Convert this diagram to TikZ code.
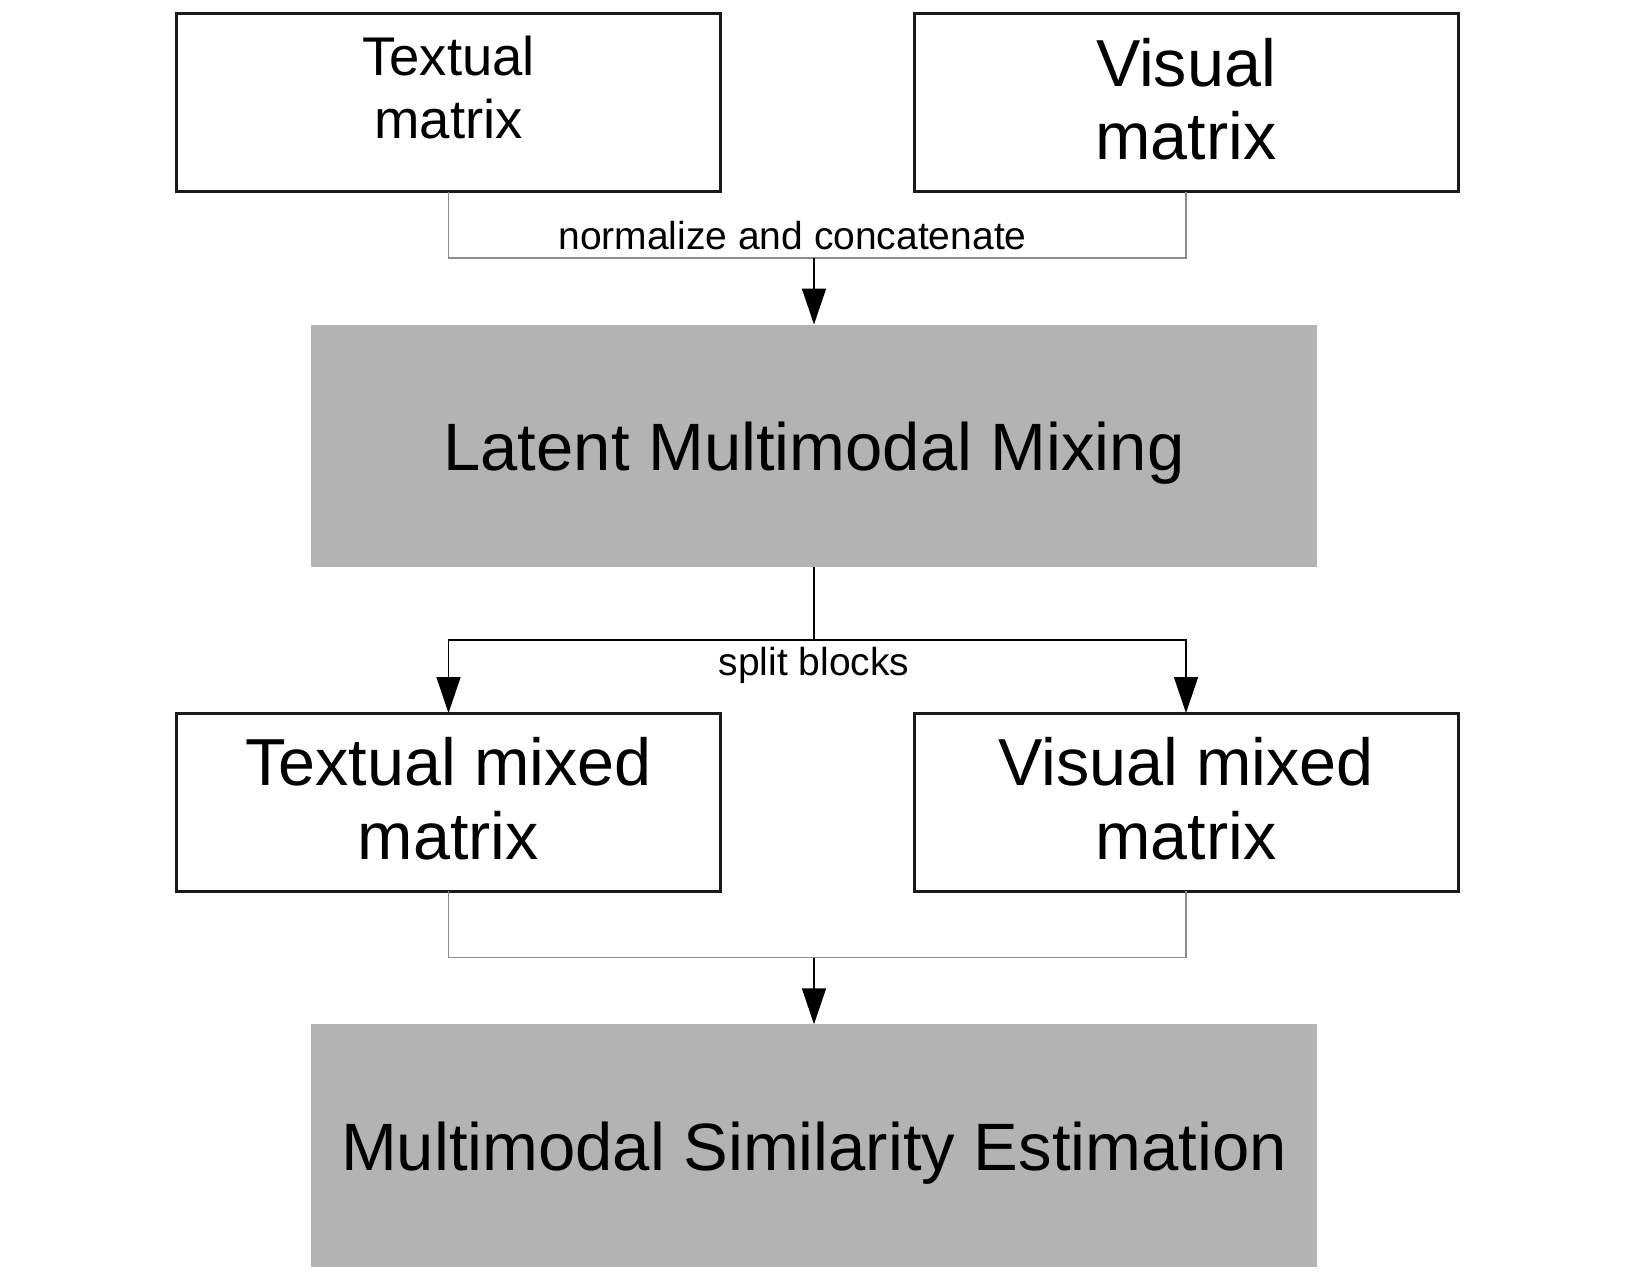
\documentclass[tikz,border=0pt]{standalone}
\usepackage{fontspec}
\setmainfont{Liberation Sans}
\usetikzlibrary{arrows.meta}
\definecolor{boxfill}{HTML}{B3B3B3}
\definecolor{boxline}{HTML}{1A1A1A}
\definecolor{joinline}{HTML}{8C8C8C}
\begin{document}
\begin{tikzpicture}[x=1pt,y=-1pt,
  whitebox/.style={draw=boxline,line width=3pt,fill=white,rectangle,inner sep=0pt,outer sep=0pt,minimum width=544pt,minimum height=178pt},
  graybox/.style={draw=none,fill=boxfill,rectangle,inner sep=0pt,outer sep=0pt,minimum width=1006pt,minimum height=242.5pt},
  txt/.style={anchor=base,inner sep=0pt,text=black},
  joinpath/.style={draw=joinline,line width=1.5pt},
  splitpath/.style={draw=black,line width=1.5pt},
  arrowline/.style={draw=black,line width=1.5pt,-{Triangle[length=36pt,width=24pt]}}
]
\useasboundingbox (0,0) rectangle (1647,1275);

% boxes
\node[whitebox] (tm) at (448.5,102.5) {};
\node[whitebox] (vm) at (1186,102.5) {};
\node[graybox] (lmm) at (814,445.75) {};
\node[whitebox] (tmm) at (448.5,802) {};
\node[whitebox] (vmm) at (1186,802) {};
\node[graybox] (mse) at (814,1145.5) {};

% texts
\node[txt,font=\fontsize{54.5}{63}\selectfont] (tmt1) at (448.5,75.6) {Textual};
\node[txt,font=\fontsize{54.5}{63}\selectfont] (tmt2) at (448.5,138.7) {matrix};
\node[txt,font=\fontsize{66.5}{74}\selectfont] (vmt1) at (1186,86) {Visual};
\node[txt,font=\fontsize{66.5}{74}\selectfont] (vmt2) at (1186,159.7) {matrix};
\node[txt,font=\fontsize{67}{80}\selectfont] (lmmt) at (814,470.5) {Latent Multimodal Mixing};
\node[txt,font=\fontsize{66.5}{74}\selectfont] (tmmt1) at (448.5,785.7) {Textual mixed};
\node[txt,font=\fontsize{66.5}{74}\selectfont] (tmmt2) at (448.5,859.2) {matrix};
\node[txt,font=\fontsize{66.5}{74}\selectfont] (vmmt1) at (1186,785.7) {Visual mixed};
\node[txt,font=\fontsize{66.5}{74}\selectfont] (vmmt2) at (1186,859.2) {matrix};
\node[txt,font=\fontsize{67}{80}\selectfont] (mset) at (814,1170) {Multimodal Similarity Estimation};

% junctions
\coordinate (j1) at (814,258);
\coordinate (j2) at (814,640);
\coordinate (j3) at (814,957.5);

% top merge
\draw[joinpath] (tm.south) |- (j1) -| (vm.south);
\draw[arrowline] (j1) -- (lmm.north);
\node[txt,font=\fontsize{39}{46}\selectfont] (lbl1) at (792.5,249) {normalize and concatenate};

% split
\draw[splitpath] (lmm.south) -- (j2);
\draw[arrowline] (j2) -| (tmm.north);
\draw[arrowline] (j2) -| (vmm.north);
\node[txt,font=\fontsize{39}{46}\selectfont] (lbl2) at (814,675) {split blocks};

% bottom merge
\draw[joinpath] (tmm.south) |- (j3) -| (vmm.south);
\draw[arrowline] (j3) -- (mse.north);
\end{tikzpicture}
\end{document}
